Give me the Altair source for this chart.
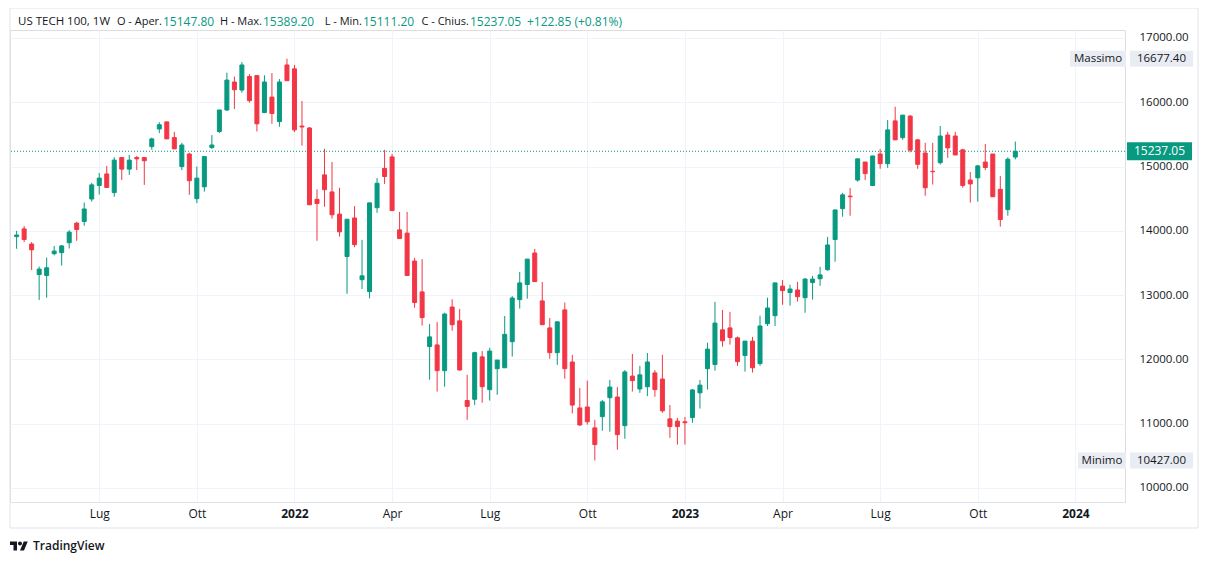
import altair as alt
import pandas as pd

# ---------------- data ----------------
start_date = "2021-04-19"   # first weekly candle (Monday)
opens = [13910, 14030, 13795, 13320, 13305, 13645, 13660, 13815, 14120, 14145,
         14495, 14705, 14885, 14595, 15140, 14960, 15140, 15140, 15310, 15585,
         15695, 15450, 15000, 15195, 14500, 14685, 15295, 15545, 15880, 16315,
         16190, 16400, 16415, 15840, 16080, 15700, 16580, 16520, 15630, 15600,
         14490, 14870, 14605, 14260, 13600, 14200, 13240, 13055, 14360, 14970,
         15150, 14015, 13965, 13530, 13050, 12200, 12225, 11825, 12815, 12600,
         11360, 11380, 12040, 11530, 11855, 11870, 12275, 12930, 13165, 13655,
         12910, 12490, 12105, 12770, 11960, 11245, 11260, 10935, 11110, 11405,
         11415, 10970, 11740, 11540, 11575, 11790, 11695, 11075, 11040, 11030,
         11095, 11480, 11855, 11920, 12460, 12490, 12335, 12060, 12285, 11935,
         12555, 12680, 13140, 13040, 13080, 12960, 13195, 13255, 13395, 13865,
         14345, 14540, 14790, 15070, 14705, 15195, 15045, 15710, 15450, 15785,
         15415, 15210, 14925, 15060, 15490, 15475, 15260, 14790, 14825, 15070,
         15195, 14645, 14330, 15147.80]
highs = [14000, 14075, 13825, 13445, 13585, 13765, 13780, 14010, 14140, 14440,
         14745, 14900, 15010, 15145, 15145, 15180, 15165, 15140, 15450, 15690,
         15695, 15540, 15370, 15215, 15000, 15155, 15490, 15880, 16460, 16400,
         16625, 16440, 16415, 16420, 16455, 16360, 16677.40, 16580, 16020, 15615,
         14645, 15275, 15070, 14670, 14180, 14385, 13860, 14435, 14820, 15260,
         15195, 14295, 14295, 13580, 13560, 12550, 12580, 12725, 12935, 12785,
         11760, 12120, 12130, 12180, 11990, 12675, 12985, 13360, 13560, 13720,
         13205, 12645, 12585, 12885, 12070, 11555, 11670, 11060, 11370, 11680,
         11570, 11835, 12085, 11900, 12100, 11835, 12070, 11290, 11090, 11105,
         11540, 11680, 12260, 12895, 12770, 12740, 12355, 12285, 12350, 12680,
         12960, 13190, 13235, 13160, 13205, 13265, 13300, 13440, 13905, 14325,
         14590, 14665, 15120, 15070, 15165, 15275, 15725, 15930, 15800, 15800,
         15430, 15370, 15370, 15630, 15540, 15540, 15275, 14915, 15025, 15350,
         15195, 14855, 15145, 15389.20]
lows = [13720, 13825, 13390, 12925, 12960, 13620, 13460, 13725, 13845, 14080,
        14455, 14565, 14670, 14530, 14790, 14870, 14945, 14715, 15260, 15520,
        15430, 15275, 14945, 14560, 14430, 14610, 15275, 15520, 15865, 15895,
        16150, 15995, 15545, 15830, 15665, 15620, 16335, 15535, 15325, 14405,
        13845, 14375, 14190, 13910, 13020, 13745, 13095, 12950, 14280, 14730,
        14315, 13880, 13305, 12805, 12525, 11685, 11500, 11575, 12445, 11825,
        11060, 11290, 11325, 11360, 11450, 11870, 12045, 12790, 12945, 13210,
        12540, 12010, 11915, 11700, 11160, 10965, 10985, 10427.00, 10890, 10875,
        10595, 10765, 11500, 11480, 11430, 11420, 11170, 10780, 10675, 10675,
        11015, 11235, 11530, 11825, 12200, 12230, 11900, 11810, 11795, 11900,
        12520, 12520, 12850, 12835, 12900, 12725, 12930, 13145, 13380, 13520,
        14220, 14235, 14765, 14790, 14705, 14965, 14980, 15415, 15415, 15220,
        14965, 14545, 14720, 15030, 15135, 15180, 14670, 14440, 14455, 14945,
        14530, 14065, 14235, 15111.20]
closes = [13935, 13865, 13705, 13405, 13425, 13685, 13765, 13980, 14020, 14340,
          14715, 14820, 14675, 15100, 14960, 15100, 15120, 15090, 15430, 15650,
          15430, 15275, 15335, 14780, 14820, 15155, 15335, 15880, 16345, 16195,
          16580, 16025, 15665, 16315, 15825, 16315, 16335, 15570, 15615, 14405,
          14425, 14640, 14250, 13985, 14180, 13785, 13300, 14435, 14740, 14845,
          14315, 13880, 13305, 12885, 12650, 12350, 11825, 12705, 12540, 11835,
          11270, 12105, 11575, 12130, 11990, 12390, 12955, 13190, 13560, 13210,
          12540, 12105, 12585, 11855, 11290, 10980, 11030, 10675, 11340, 11570,
          10830, 11805, 11670, 11760, 11960, 11530, 11200, 10955, 10955, 11015,
          11525, 11600, 12160, 12565, 12290, 12340, 11965, 12285, 11870, 12520,
          12800, 13190, 13070, 13095, 12975, 13250, 13250, 13315, 13780, 14325,
          14560, 14530, 15120, 14890, 15165, 15045, 15570, 15415, 15800, 15255,
          15035, 14670, 14920, 15475, 15290, 15180, 14705, 14730, 15010, 14985,
          14530, 14175, 15114.20, 15237.05]

tick_dates = ["2021-07-05", "2021-10-04", "2022-01-03", "2022-04-04", "2022-07-04",
              "2022-10-03", "2023-01-02", "2023-04-03", "2023-07-03", "2023-10-02",
              "2024-01-01"]
month_names = ["Gen", "Feb", "Mar", "Apr", "Mag", "Giu", "Lug", "Ago", "Set", "Ott", "Nov", "Dic"]
price_ticks = list(range(10000, 17001, 500))

symbol_label = "US TECH 100, 1W"
hdr_open, hdr_high, hdr_low, hdr_close = 15147.80, 15389.20, 15111.20, 15237.05
hdr_change, hdr_change_pct = 122.85, 0.81
max_price, min_price = 16677.40, 10427.00

# ---------------- style ----------------
GREEN = "#089981"
RED = "#F23645"
GRID = "#f0f3fa"
BORDER = "#e0e3eb"
TEXT = "#131722"
TAG_BG = "#e9ecf2"
FONT = "Open Sans"
W, H = 1115, 472

df = pd.DataFrame({
    "date": pd.date_range(start_date, periods=len(opens), freq="7D").strftime("%Y-%m-%d"),
    "open": opens, "high": highs, "low": lows, "close": closes,
})
df["dir"] = ["up" if c >= o else "down" for o, c in zip(opens, closes)]


def dt(s, h=0, mi=0):
    y, m, d = map(int, s.split("-"))
    return alt.DateTime(year=y, month=m, date=d, hours=h, minutes=mi, utc=True)


xscale = alt.Scale(type="utc", domain=[dt("2021-04-17", 11, 30), dt("2024-02-11", 14)])
yscale = alt.Scale(domain=[9782, 17124], nice=False, zero=False)
dir_scale = alt.Scale(domain=["up", "down"], range=[GREEN, RED])

names_js = "[" + ",".join("'%s'" % m for m in month_names) + "]"
x_axis = alt.Axis(
    values=[dt(s) for s in tick_dates],
    labelExpr="utcmonth(datum.value) == 0 ? '' + utcyear(datum.value) : " + names_js + "[utcmonth(datum.value)]",
    labelFontWeight={"condition": {"test": "utcmonth(datum.value) == 0", "value": "bold"}, "value": "normal"},
    grid=True, gridColor=GRID, ticks=False, domain=True, domainColor=BORDER,
    labelColor=TEXT, labelFontSize=12, labelPadding=6, title=None, labelFont=FONT,
)
y_axis = alt.Axis(
    orient="right", values=price_ticks, format=".2f", grid=True, gridColor=GRID,
    ticks=False, domain=False, labelColor=TEXT, labelFontSize=11.5, labelPadding=14,
    title=None, labelFont=FONT,
)

base = alt.Chart(df)
X = alt.X("date:T", scale=xscale, axis=x_axis)

wicks = base.mark_rule(strokeWidth=1).encode(
    x=X,
    y=alt.Y("low:Q", scale=yscale, axis=y_axis),
    y2="high:Q",
    color=alt.Color("dir:N", scale=dir_scale, legend=None),
)
bodies = base.mark_bar(size=4, strokeWidth=1).encode(
    x=X,
    y="open:Q",
    y2="close:Q",
    color=alt.Color("dir:N", scale=dir_scale, legend=None),
    stroke=alt.Stroke("dir:N", scale=dir_scale, legend=None),
)

# outer frame
frame = alt.Chart(pd.DataFrame({"k": [0]})).mark_rect(
    fill=None, stroke=BORDER, strokeWidth=1, clip=False
).encode(x=alt.value(0), x2=alt.value(1188), y=alt.value(-22), y2=alt.value(498))

# current price line and tag
cur = pd.DataFrame({"p": [hdr_close], "t": [f"{hdr_close:.2f}"]})
cur_line = alt.Chart(cur).mark_rule(color=GREEN, strokeDash=[1, 2], strokeWidth=1).encode(
    y=alt.Y("p:Q", scale=yscale))


def box_shape(w, h):
    r = w / 2.0
    k = (h / 2.0) / r
    return f"M-1,-{k:.4f}L1,-{k:.4f}L1,{k:.4f}L-1,{k:.4f}Z", w * w


cur_shape, cur_size = box_shape(65, 18)
cur_box = alt.Chart(cur).mark_point(shape=cur_shape, size=cur_size, filled=True, fill=GREEN,
                                    opacity=1, strokeWidth=0, clip=False).encode(
    x=alt.value(W + 2 + 32.5), y=alt.Y("p:Q", scale=yscale))
cur_txt = alt.Chart(cur).mark_text(color="white", fontSize=12, font=FONT, align="center",
                                   baseline="middle", clip=False).encode(
    x=alt.value(W + 2 + 32.5), y=alt.Y("p:Q", scale=yscale), text="t:N")

# Massimo / Minimo tags
ext = pd.DataFrame({
    "p": [max_price, min_price],
    "name": ["Massimo", "Minimo"],
    "t": [f"{max_price:.2f}", f"{min_price:.2f}"],
})
val_shape, val_size = box_shape(63, 16)
val_box = alt.Chart(ext).mark_point(shape=val_shape, size=val_size, filled=True, fill=TAG_BG,
                                    opacity=1, strokeWidth=0, clip=False).encode(
    x=alt.value(W + 5 + 31.5), y=alt.Y("p:Q", scale=yscale))
val_txt = alt.Chart(ext).mark_text(color=TEXT, fontSize=11.5, font=FONT, align="center",
                                   baseline="middle", clip=False).encode(
    x=alt.value(W + 5 + 31.5), y=alt.Y("p:Q", scale=yscale), text="t:N")
mx_shape, mx_size = box_shape(56, 16)
mn_shape, mn_size = box_shape(48, 16)
name_box_max = alt.Chart(ext.iloc[[0]]).mark_point(shape=mx_shape, size=mx_size, filled=True,
                                                    fill=TAG_BG, opacity=1, strokeWidth=0).encode(
    x=alt.value(W - 55 + 28), y=alt.Y("p:Q", scale=yscale))
name_box_min = alt.Chart(ext.iloc[[1]]).mark_point(shape=mn_shape, size=mn_size, filled=True,
                                                    fill=TAG_BG, opacity=1, strokeWidth=0).encode(
    x=alt.value(W - 47 + 24), y=alt.Y("p:Q", scale=yscale))
name_txt_max = alt.Chart(ext.iloc[[0]]).mark_text(color=TEXT, fontSize=11.5, font=FONT,
                                                  align="center", baseline="middle").encode(
    x=alt.value(W - 55 + 28), y=alt.Y("p:Q", scale=yscale), text="name:N")
name_txt_min = alt.Chart(ext.iloc[[1]]).mark_text(color=TEXT, fontSize=11.5, font=FONT,
                                                  align="center", baseline="middle").encode(
    x=alt.value(W - 47 + 24), y=alt.Y("p:Q", scale=yscale), text="name:N")

# header legend line: labels right-aligned just before their values
hdr_labels = pd.DataFrame({
    "t": ["O - Aper.", "H - Max.", "L - Min.", "C - Chius."],
    "px": [152, 252, 352, 459],
})
hdr_values = pd.DataFrame({
    "t": [f"{hdr_open:.2f}", f"{hdr_high:.2f}", f"{hdr_low:.2f}", f"{hdr_close:.2f}",
          f"+{hdr_change:.2f} (+{hdr_change_pct:.2f}%)"],
    "px": [153, 253, 353, 460, 517],
})
hdr_sym = pd.DataFrame({"t": [symbol_label], "px": [8]})
header_sym = alt.Chart(hdr_sym).mark_text(fontSize=11.5, font=FONT, align="left", baseline="middle",
                                          color=TEXT, clip=False).encode(
    x=alt.X("px:Q", scale=None), y=alt.value(-8), text="t:N")
header_lab = alt.Chart(hdr_labels).mark_text(fontSize=11, font=FONT, align="right",
                                             baseline="middle", color=TEXT, clip=False).encode(
    x=alt.X("px:Q", scale=None), y=alt.value(-8), text="t:N")
header_val = alt.Chart(hdr_values).mark_text(fontSize=12, font=FONT, align="left",
                                             baseline="middle", color=GREEN, clip=False).encode(
    x=alt.X("px:Q", scale=None), y=alt.value(-8), text="t:N")

# TradingView logo
logo_path = ("M-0.222,0.5L-0.611,0.5L-0.611,-0.111L-1,-0.111L-1,-0.5L-0.222,-0.5Z"
             "M0.333,-0.278A0.222,0.222 0 1 1 -0.111,-0.278A0.222,0.222 0 1 1 0.333,-0.278Z"
             "M0.556,0.5L0.111,0.5L0.528,-0.5L0.972,-0.5Z")
logo_df = pd.DataFrame({"t": ["TradingView"]})
logo = alt.Chart(logo_df).mark_point(shape=logo_path, size=324, filled=True, fill=TEXT,
                                     opacity=1, strokeWidth=0, clip=False).encode(
    x=alt.value(9), y=alt.value(516))
logo_txt = alt.Chart(logo_df).mark_text(fontSize=12, font=FONT, fontWeight=600, color=TEXT,
                                        align="left", baseline="middle", clip=False).encode(
    x=alt.value(23), y=alt.value(516), text="t:N")

chart = alt.layer(
    frame, cur_line, wicks, bodies, cur_box, cur_txt,
    name_box_max, name_box_min, name_txt_max, name_txt_min, val_box, val_txt,
    header_sym, header_lab, header_val, logo, logo_txt,
).properties(
    width=W, height=H,
    autosize=alt.AutoSizeParams(type="none"),
    padding={"left": 2, "top": 22, "right": 76, "bottom": 54},
    background="white",
).configure_view(strokeWidth=0).configure(font=FONT)

chart.save("out.html", embed_options={"renderer": "svg", "actions": False})
